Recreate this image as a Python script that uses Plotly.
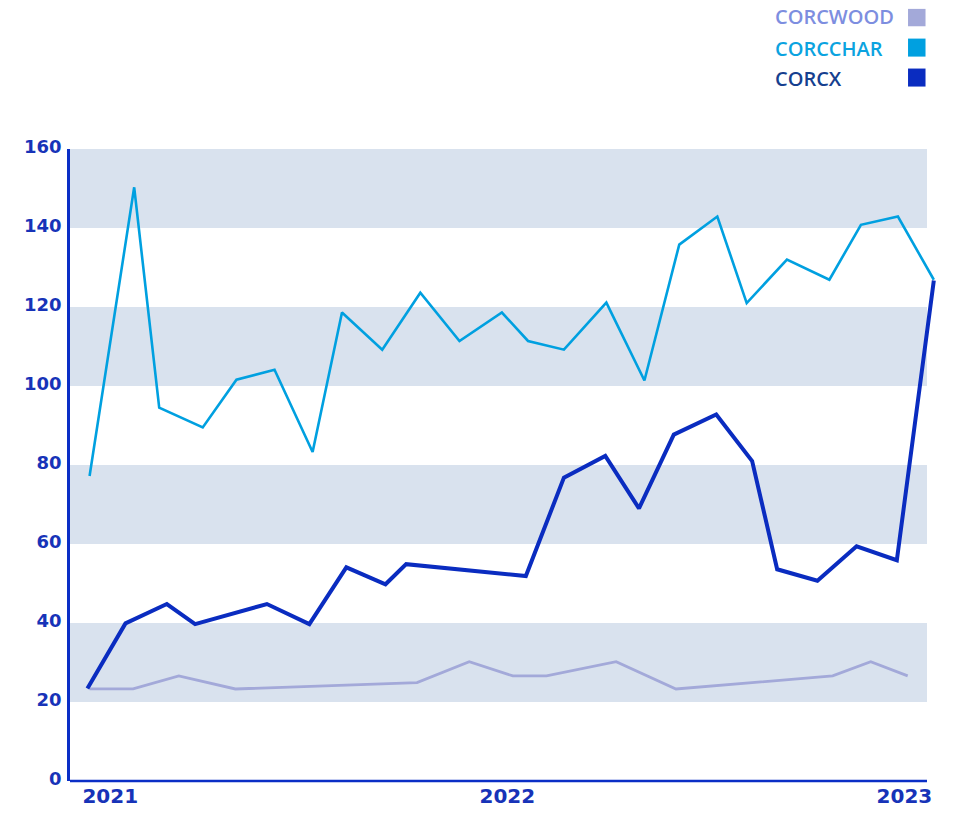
import plotly.graph_objects as go

# ---------------- data ----------------
series_names = ["CORCWOOD", "CORCCHAR", "CORCX"]

corcwood_dates = ["2020-12-13", "2021-01-22", "2021-03-05", "2021-04-26", "2021-10-10",
                  "2021-11-27", "2022-01-06", "2022-02-06", "2022-04-11", "2022-06-05",
                  "2022-10-27", "2022-12-01", "2023-01-04"]
corcwood_values = [23.3, 23.3, 26.6, 23.3, 24.9, 30.2, 26.6, 26.6, 30.2, 23.3, 26.6, 30.2, 26.6]

corcchar_dates = ["2020-12-13", "2021-01-23", "2021-02-15", "2021-03-27", "2021-04-27",
                  "2021-06-01", "2021-07-06", "2021-08-02", "2021-09-08", "2021-10-13",
                  "2021-11-18", "2021-12-27", "2022-01-20", "2022-02-22", "2022-04-02",
                  "2022-05-07", "2022-06-08", "2022-07-13", "2022-08-09", "2022-09-15",
                  "2022-10-24", "2022-11-22", "2022-12-26", "2023-01-28"]
corcchar_values = [77.2, 150.3, 94.5, 89.5, 101.6, 104.1, 83.3, 118.6, 109.2, 123.6,
                   111.4, 118.6, 111.4, 109.2, 121.1, 101.4, 135.8, 142.9, 121.0, 132.0,
                   126.9, 140.8, 142.9, 126.9]

corcx_dates = ["2020-12-11", "2021-01-15", "2021-02-22", "2021-03-20", "2021-05-25",
               "2021-07-03", "2021-08-06", "2021-09-11", "2021-09-30", "2022-01-18",
               "2022-02-22", "2022-04-01", "2022-05-02", "2022-06-03", "2022-07-12",
               "2022-08-14", "2022-09-06", "2022-10-13", "2022-11-18", "2022-12-25",
               "2023-01-28"]
corcx_values = [23.4, 39.9, 44.8, 39.7, 44.8, 39.7, 54.1, 49.8, 54.9, 51.9, 76.8, 82.3,
                69.0, 87.7, 92.8, 81.0, 53.6, 50.7, 59.4, 55.9, 126.7]

x_tick_values = ["2021-01-01", "2022-01-01", "2023-01-01"]
x_tick_labels = ["2021", "2022", "2023"]
y_tick_values = [0, 20, 40, 60, 80, 100, 120, 140, 160]
band_ranges = [(20, 40), (60, 80), (100, 120), (140, 160)]

# ---------------- styles ----------------
line_colors = ["#a3a9d9", "#00a0e0", "#0a2cc0"]
line_widths = [2.8, 2.6, 4]
legend_text_colors = ["#7d8ee0", "#0ba3e0", "#163f8f"]
axis_color = "#0a2ec6"
label_color = "#1733b8"
band_color = "#d9e2ee"

fig = go.Figure()
all_x = [corcwood_dates, corcchar_dates, corcx_dates]
all_y = [corcwood_values, corcchar_values, corcx_values]
for name, xs, ys, c, w in zip(series_names, all_x, all_y, line_colors, line_widths):
    fig.add_trace(go.Scatter(x=xs, y=ys, name=name, mode="lines",
                             line=dict(color=c, width=w), showlegend=False))

shapes = []
for lo, hi in band_ranges:
    shapes.append(dict(type="rect", xref="paper", yref="y", x0=0, x1=0.9896, y0=lo, y1=hi,
                       fillcolor=band_color, line=dict(width=0), layer="below"))
# bottom axis line
shapes.append(dict(type="line", xref="paper", yref="paper", x0=0, x1=0.9896, y0=0, y1=0,
                   line=dict(color=axis_color, width=2.5), layer="above"))

# legend (text left, square right)
legend_y = [1.2100, 1.1595, 1.1120]
sq_y = [(1.1942, 1.2217), (1.1462, 1.1747), (1.0988, 1.1273)]
annotations = []
for name, tc, c, ly, (y0, y1) in zip(series_names, legend_text_colors, line_colors, legend_y, sq_y):
    annotations.append(dict(x=0.8130, y=ly, xref="paper", yref="paper", text=name,
                            showarrow=False, xanchor="left", yanchor="middle",
                            height=18, borderpad=0, valign="middle",
                            font=dict(family="Open Sans", size=20, color=tc, weight=600)))
    shapes.append(dict(type="rect", xref="paper", yref="paper", x0=0.9677, x1=0.9879,
                       y0=y0, y1=y1, fillcolor=c, line=dict(width=0)))

fig.update_layout(
    width=937, height=801,
    margin=dict(l=62, r=9, t=140.5, b=28),
    paper_bgcolor="white", plot_bgcolor="white",
    shapes=shapes, annotations=annotations,
    xaxis=dict(type="date", range=["2020-11-25", "2023-01-30"],
               tickvals=x_tick_values, ticktext=x_tick_labels, automargin=False,
               showgrid=False, zeroline=False, showline=False, ticks="",
               tickfont=dict(family="DejaVu Sans", size=20, color=label_color, weight="bold"),
               ticklabelstandoff=1),
    yaxis=dict(range=[0, 160], tickvals=y_tick_values, showgrid=False, zeroline=False,
               automargin=False,
               showline=True, linecolor=axis_color, linewidth=2.5, ticks="",
               tickfont=dict(family="DejaVu Sans", size=18, color=label_color, weight="bold"),
               ticklabelstandoff=2, ticklabelshift=-2),
)

fig.write_html("out.html")
